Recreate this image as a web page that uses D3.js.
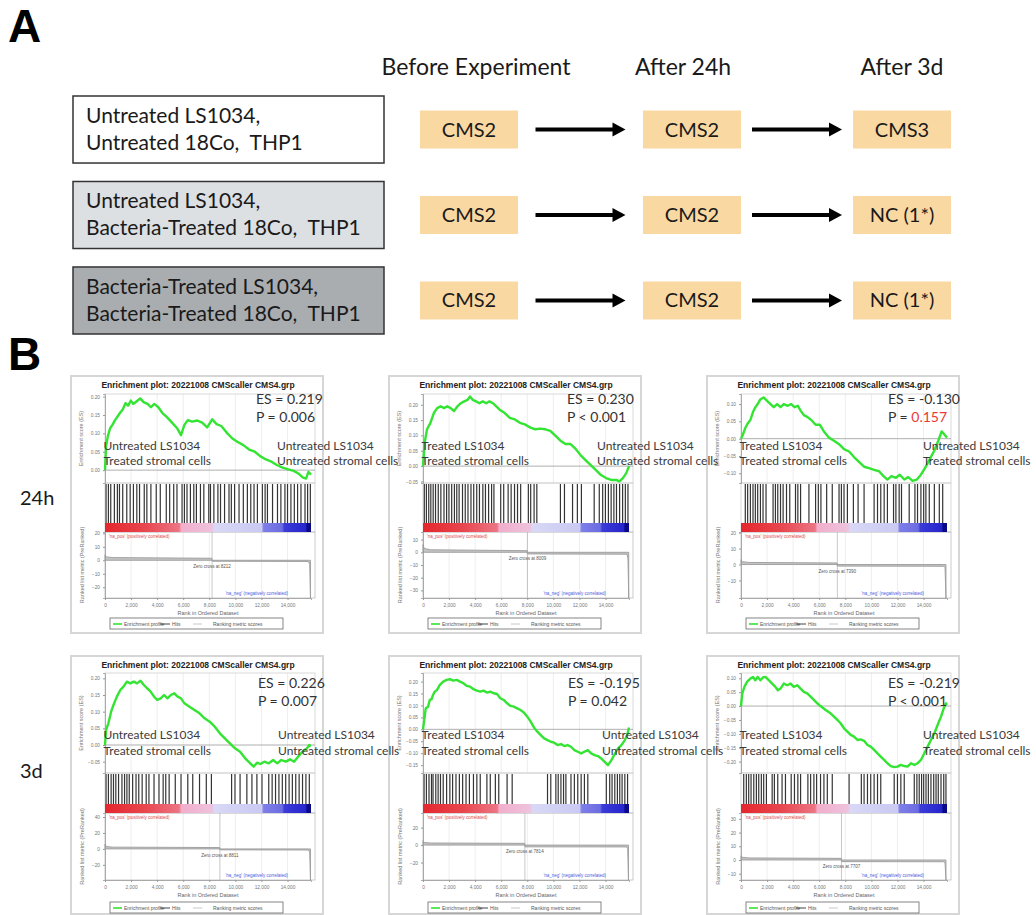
<!DOCTYPE html>
<html>
<head>
<meta charset="utf-8">
<script src="https://cdn.jsdelivr.net/npm/d3@7"></script>
<style>
  body { margin: 0; background: #fff; }
  svg text { font-family: Lato, "Liberation Sans", sans-serif; }
</style>
</head>
<body>
<svg id="fig" width="1036" height="915"></svg>
<script>
// ---------- panel A values ----------
var stages = ["Before Experiment", "After 24h", "After 3d"];
var sampleLines = [
  ["Untreated LS1034,", "Untreated 18Co,  THP1"],
  ["Untreated LS1034,", "Bacteria-Treated 18Co,  THP1"],
  ["Bacteria-Treated LS1034,", "Bacteria-Treated 18Co,  THP1"]
];
var cmsStates = [
  ["CMS2", "CMS2", "CMS3"],
  ["CMS2", "CMS2", "NC (1*)"],
  ["CMS2", "CMS2", "NC (1*)"]
];

// ---------- panel B values ----------
var rowLabels = ["24h", "3d"];
var plotTitle = "Enrichment plot: 20221008 CMScaller CMS4.grp";
var nGenes = 15800;
var rankTicks = [0, 2000, 4000, 6000, 8000, 10000, 12000, 14000];
var esValues = ["0.219", "0.230", "-0.130", "0.226", "-0.195", "-0.219"];
var pOps = ["=", "<", "=", "=", "=", "<"];
var pValues = ["0.006", "0.001", "0.157", "0.007", "0.042", "0.001"];
var pSignificant = [true, true, false, true, true, true];
var zeroCross = [8212, 8009, 7390, 8811, 7814, 7707];
var leftNotes = [
  ["Untreated LS1034", "Treated stromal cells"],
  ["Treated LS1034", "Treated stromal cells"],
  ["Treated LS1034", "Treated stromal cells"],
  ["Untreated LS1034", "Treated stromal cells"],
  ["Treated LS1034", "Treated stromal cells"],
  ["Treated LS1034", "Treated stromal cells"]
];
var rightNotes = [
  ["Untreated LS1034", "Untreated stromal cells"],
  ["Untreated LS1034", "Untreated stromal cells"],
  ["Untreated LS1034", "Treated stromal cells"],
  ["Untreated LS1034", "Untreated stromal cells"],
  ["Untreated LS1034", "Untreated stromal cells"],
  ["Untreated LS1034", "Treated stromal cells"]
];
var esTicks = [
  [0, 0.05, 0.1, 0.15, 0.2],
  [-0.05, 0, 0.05, 0.1, 0.15, 0.2],
  [-0.1, -0.05, 0, 0.05, 0.1],
  [-0.05, 0, 0.05, 0.1, 0.15, 0.2],
  [-0.15, -0.1, -0.05, 0, 0.05, 0.1, 0.15, 0.2],
  [-0.2, -0.15, -0.1, -0.05, 0, 0.05, 0.1]
];
var metricTicks = [
  [-20, -10, 0, 10, 20],
  [-30, -20, -10, 0, 10],
  [-10, 0, 10, 20],
  [-20, 0, 20, 40],
  [-20, 0, 20],
  [-10, 0, 10, 20, 30]
];

// running enrichment score, [rank, ES]
var es1 = [[0,0],[80,0.064],[210,0.091],[390,0.114],[570,0.123],[770,0.136],[950,0.145],[1160,0.156],[1360,0.165],[1570,0.182],[1770,0.175],[1980,0.189],[2180,0.18],[2390,0.186],[2700,0.195],[2960,0.185],[3260,0.18],[3520,0.171],[3780,0.18],[4090,0.171],[4390,0.156],[4750,0.144],[5140,0.129],[5530,0.114],[5830,0.095],[6090,0.123],[6350,0.136],[6680,0.132],[7070,0.135],[7450,0.129],[7840,0.116],[8220,0.138],[8560,0.125],[8920,0.12],[9330,0.102],[9770,0.086],[10150,0.077],[10610,0.068],[11050,0.056],[11490,0.05],[11900,0.038],[12340,0.029],[12770,0.023],[13180,0.014],[13620,0.007],[14060,0.002],[14470,-0.002],[14830,-0.009],[15160,-0.02],[15420,-0.023],[15600,-0.005],[15800,-0.012]];
var es2 = [[0,0],[130,0.078],[310,0.12],[570,0.141],[830,0.173],[1090,0.189],[1350,0.195],[1610,0.189],[1860,0.195],[2120,0.189],[2380,0.179],[2640,0.195],[2900,0.205],[3160,0.211],[3420,0.216],[3600,0.227],[3810,0.216],[4070,0.211],[4330,0.205],[4580,0.211],[4840,0.205],[5100,0.211],[5360,0.205],[5620,0.195],[5880,0.184],[6270,0.173],[6660,0.157],[7040,0.152],[7430,0.141],[7820,0.136],[8210,0.126],[8600,0.12],[8990,0.122],[9380,0.12],[9760,0.115],[10150,0.099],[10540,0.083],[10930,0.072],[11320,0.072],[11710,0.056],[12100,0.035],[12480,0.019],[12870,0.003],[13260,-0.013],[13650,-0.029],[14040,-0.039],[14430,-0.045],[14810,-0.045],[15070,-0.05],[15330,-0.039],[15590,-0.023],[15800,0]];
var es3 = [[0,0],[150,0.012],[330,0.031],[510,0.044],[720,0.054],[920,0.077],[1100,0.091],[1280,0.1],[1490,0.114],[1740,0.119],[2000,0.109],[2260,0.1],[2510,0.091],[2770,0.1],[3030,0.091],[3280,0.1],[3590,0.095],[3850,0.1],[4100,0.091],[4360,0.095],[4570,0.081],[4820,0.068],[5080,0.063],[5390,0.054],[5720,0.04],[6050,0.04],[6360,0.021],[6750,0.003],[7130,-0.006],[7520,-0.016],[7900,-0.03],[8290,-0.037],[8670,-0.053],[9050,-0.067],[9440,-0.081],[9820,-0.085],[10210,-0.09],[10590,-0.094],[10930,-0.108],[11230,-0.118],[11540,-0.108],[11880,-0.113],[12180,-0.104],[12520,-0.118],[12830,-0.111],[13160,-0.122],[13490,-0.118],[13800,-0.104],[14110,-0.085],[14440,-0.062],[14830,-0.034],[15130,-0.006],[15390,0.021],[15600,0.012],[15800,0.003]];
var es4 = [[0,0],[80,0.045],[260,0.065],[470,0.1],[650,0.12],[910,0.145],[1170,0.165],[1420,0.175],[1680,0.19],[1940,0.185],[2200,0.19],[2460,0.185],[2720,0.193],[2980,0.18],[3240,0.17],[3500,0.16],[3760,0.145],[4010,0.135],[4270,0.14],[4530,0.15],[4790,0.14],[5050,0.15],[5310,0.155],[5570,0.145],[5830,0.14],[6090,0.125],[6480,0.115],[6860,0.105],[7250,0.095],[7640,0.08],[8030,0.07],[8420,0.055],[8810,0.035],[9190,0.02],[9580,0.005],[9970,-0.01],[10360,-0.02],[10750,-0.04],[11140,-0.055],[11400,-0.065],[11660,-0.053],[11910,-0.057],[12220,-0.05],[12560,-0.055],[12900,-0.045],[13210,-0.055],[13520,-0.045],[13860,-0.05],[14190,-0.043],[14500,-0.05],[14810,-0.035],[15150,-0.02],[15490,-0.01],[15670,0],[15800,-0.003]];
var es5 = [[0,0],[80,0.032],[210,0.088],[390,0.095],[520,0.123],[650,0.126],[770,0.144],[900,0.158],[1080,0.165],[1290,0.186],[1550,0.2],[1810,0.207],[2060,0.21],[2320,0.204],[2580,0.207],[2840,0.2],[3100,0.193],[3350,0.182],[3610,0.179],[3870,0.168],[4130,0.162],[4390,0.158],[4640,0.162],[4900,0.154],[5160,0.158],[5420,0.151],[5680,0.148],[5930,0.13],[6190,0.123],[6450,0.109],[6710,0.098],[6970,0.095],[7220,0.088],[7480,0.081],[7740,0.07],[8000,0.053],[8260,0.032],[8510,0.008],[8770,-0.01],[9030,-0.024],[9290,-0.038],[9550,-0.045],[9800,-0.052],[10060,-0.056],[10320,-0.066],[10580,-0.062],[10840,-0.07],[11090,-0.066],[11350,-0.073],[11610,-0.087],[11870,-0.094],[12130,-0.101],[12380,-0.094],[12640,-0.087],[12900,-0.101],[13160,-0.108],[13420,-0.112],[13670,-0.122],[13930,-0.136],[14190,-0.15],[14450,-0.129],[14710,-0.103],[14960,-0.08],[15220,-0.066],[15480,-0.045],[15660,-0.024],[15800,0.008]];
var es6 = [[0,0],[100,0.046],[260,0.069],[460,0.087],[720,0.099],[920,0.105],[1100,0.093],[1280,0.105],[1490,0.093],[1690,0.103],[1870,0.105],[2130,0.093],[2390,0.081],[2640,0.069],[2820,0.057],[3030,0.063],[3280,0.081],[3540,0.075],[3800,0.081],[4050,0.069],[4310,0.075],[4570,0.063],[4820,0.051],[5080,0.046],[5340,0.034],[5590,0.022],[5850,0.01],[6100,0],[6490,-0.014],[6870,-0.026],[7130,-0.038],[7390,-0.05],[7640,-0.062],[7900,-0.08],[8160,-0.092],[8410,-0.104],[8670,-0.11],[8930,-0.122],[9180,-0.12],[9440,-0.125],[9700,-0.14],[9950,-0.146],[10210,-0.158],[10470,-0.17],[10720,-0.182],[10980,-0.194],[11230,-0.206],[11490,-0.216],[11750,-0.22],[12000,-0.218],[12260,-0.212],[12520,-0.216],[12770,-0.218],[13030,-0.206],[13290,-0.212],[13540,-0.206],[13800,-0.194],[14060,-0.17],[14310,-0.146],[14570,-0.122],[14830,-0.098],[15080,-0.068],[15340,-0.038],[15550,-0.008],[15720,0.01],[15800,0.004]];

// hit positions (rank)
var hits1 = [80,260,440,720,950,1110,1360,1670,1930,2180,2440,2650,3010,3210,3520,3930,4240,4700,4960,5270,5520,5910,6090,6290,6550,6810,7010,7320,7580,7960,8090,8350,8660,8860,9170,9510,9690,9940,10280,10610,10920,11180,11430,11690,12070,12280,12460,12850,13230,13490,13800,14000,14260,14520,14770,15030,15340,15540,15750];
var hits2 = [100,260,440,600,780,960,1170,1370,1610,1810,1990,2200,2410,2590,2770,3030,3240,3450,3680,3890,4120,4330,4590,4790,5030,5260,5440,5960,6190,6530,6760,7020,7250,7490,8080,8260,8520,8730,10540,10850,11470,11840,12150,13130,13520,13780,13990,14220,14430,14640,14840,15080,15310,15520,15720];
var hits3 = [330,510,720,920,1100,1280,1490,1690,1920,2460,2640,2820,3030,3230,3490,3740,4180,4360,4570,5210,5720,5930,6130,6570,7000,7520,7700,7900,8160,8620,8980,9440,10210,10470,10720,10980,11230,11700,11880,12130,12310,12900,13340,13540,13800,14010,14180,14440,14830,15210,15470];
var hits4 = [80,260,470,650,830,1040,1300,1500,1680,1860,2120,2380,2590,2850,3160,3370,3760,4140,4460,4660,4920,5390,5830,6350,6730,7250,7770,8160,9710,9970,10360,10880,11270,11650,12040,12560,12820,13080,13340,13600,13860,14120,14370,14630,14890,15150,15410,15670];
var hits5 = [80,260,460,650,770,980,1160,1340,1550,1810,2060,2270,2530,2790,3040,3300,3560,3870,4130,4390,4900,5160,5550,5810,6450,6840,9550,9800,10190,10370,10580,10780,10960,11350,11610,11870,12130,12380,12640,14060,14320,14500,14710,14910,15090,15270,15480,15690];
var hits6 = [210,410,590,770,980,1180,1360,1560,1740,1950,2390,2560,2820,3150,3410,3850,4100,4360,4570,5130,5340,5590,5800,6100,6360,6620,7000,8290,9230,9440,9700,9950,10210,10470,10720,11750,12000,12260,12520,13290,13490,13670,13850,14010,14190,14370,14570,14780,14960,15130,15340,15550,15720];

// ranked list metric, [rank, metric]
var metric1 = [[0,4],[100,2.5],[600,2],[8200,1.5],[8212,-0.7],[15600,-0.9],[15700,-3],[15760,-28]];
var metric2 = [[0,6],[100,3],[600,2],[8000,1.3],[8009,-1.3],[15650,-1.5],[15720,-5],[15780,-36]];
var metric3 = [[0,3],[100,1.8],[600,1.3],[7380,1],[7390,-1],[15550,-1.1],[15650,-2],[15720,-21]];
var metric4 = [[0,6],[100,3],[600,2.2],[8800,1.7],[8811,-1.2],[15600,-1.4],[15700,-4],[15760,-39]];
var metric5 = [[0,5],[100,3],[600,2.4],[7800,2],[7814,-2],[15600,-2.1],[15700,-4],[15760,-40]];
var metric6 = [[0,3],[100,2],[600,1.5],[7700,1.2],[7707,-1.2],[15550,-1.3],[15650,-2],[15720,-14.6]];

// ---------- layout (not data) ----------
var esExtent = [[-0.035, 0.207], [-0.055, 0.235], [-0.128, 0.129], [-0.084, 0.216], [-0.183, 0.236], [-0.241, 0.119]];
var metricExtent = [[-28, 21], [-36, 16], [-21, 20.4], [-39, 45], [-40, 36.8], [-14.6, 34.3]];
var frameX = [71, 389, 707], frameY = [376, 656], frameW = 252;
var areaL = 34, areaR = 240;
var rowBox = [
  {h: 257, esTop: 18, esBot: 107, hitsBot: 147, barBot: 156, rankBot: 222, tickY: 229, xTitle: 239, legY: 242, note1: 74, note2: 89, es: 28, p: 46},
  {h: 258, esTop: 17, esBot: 117, hitsBot: 148, barBot: 157, rankBot: 224, tickY: 231, xTitle: 241, legY: 246, note1: 83, note2: 99, es: 32, p: 50}
];
var noteRightX = [206, 208, 216, 207, 213, 216];
var esTextX = [185, 178, 181, 187, 179, 181];
var barStops = [[0, "#e5262d"], [0.2, "#e84850"], [0.36, "#ec7584"], [0.37, "#f1aecb"], [0.52, "#eec2dd"], [0.53, "#d9d8f6"], [0.76, "#c9c9f3"], [0.77, "#7e7ee9"], [0.86, "#6c6ce2"], [0.87, "#3c3cd9"], [0.975, "#2525cc"], [0.98, "#0a0a88"], [1, "#0a0a88"]];

var svg = d3.select("#fig");
var defs = svg.append("defs");
defs.append("linearGradient").attr("id", "rankbar")
  .selectAll("stop").data(barStops).enter().append("stop")
    .attr("offset", function(d) { return d[0]; })
    .attr("stop-color", function(d) { return d[1]; });

// ================= panel A =================
svg.append("text").attr("x", 8).attr("y", 42).text("A")
  .style("font-family", "'Liberation Sans', Arial, sans-serif").style("font-weight", "bold").style("font-size", "46px");
svg.append("text").attr("x", 8).attr("y", 370).text("B")
  .style("font-family", "'Liberation Sans', Arial, sans-serif").style("font-weight", "bold").style("font-size", "46px");

var rowY = d3.scaleBand().domain(d3.range(sampleLines.length)).range([96, 334]).paddingInner(0.216);
var stageX = d3.scaleOrdinal().domain(stages).range([469, 692, 902]);
var headerX = d3.scaleOrdinal().domain(stages).range([476, 683, 902]);
var boxFill = ["#ffffff", "#dde0e3", "#a9adb0"];

svg.selectAll(".stage").data(stages).enter().append("text")
  .attr("x", function(d) { return headerX(d); })
  .attr("y", 75)
  .attr("text-anchor", "middle")
  .style("font-size", "23px").style("fill", "#1a1a1a")
  .text(function(d) { return d; });

var grp = svg.selectAll(".grp").data(sampleLines).enter().append("g");
grp.append("rect")
  .attr("x", 73).attr("y", function(d, i) { return rowY(i); })
  .attr("width", 311).attr("height", rowY.bandwidth())
  .attr("fill", function(d, i) { return boxFill[i]; })
  .attr("stroke", "#333").attr("stroke-width", 1.5);
grp.each(function(lines, i) {
  d3.select(this).selectAll("text").data(lines).enter().append("text")
    .attr("x", 86).attr("y", function(d, j) { return rowY(i) + 27 + j * 27; })
    .style("font-size", "21px").style("fill", "#1a1a1a").style("white-space", "pre")
    .text(function(d) { return d; });
});

cmsStates.forEach(function(states, i) {
  var cy = rowY(i) + rowY.bandwidth() / 2;
  states.forEach(function(s, j) {
    var cx = stageX(stages[j]);
    svg.append("rect").attr("x", cx - 49).attr("y", cy - 19).attr("width", 98).attr("height", 38).attr("fill", "#fad8a2");
    svg.append("text").attr("x", cx).attr("y", cy + 7).attr("text-anchor", "middle")
      .style("font-size", "20px").style("fill", "#1a1a1a").text(s);
    if (j < states.length - 1) {
      var mid = (stageX(stages[j]) + 49 + stageX(stages[j + 1]) - 49) / 2;
      var x0 = mid - 45, x1 = mid + 45;
      svg.append("line").attr("x1", x0).attr("x2", x1 - 10).attr("y1", cy).attr("y2", cy)
        .attr("stroke", "#000").attr("stroke-width", 4);
      svg.append("path").attr("d", "M" + x1 + "," + cy + "L" + (x1 - 13) + "," + (cy - 7) + "L" + (x1 - 13) + "," + (cy + 7) + "Z").attr("fill", "#000");
    }
  });
});

// ================= panel B =================
svg.selectAll(".rowlab").data(rowLabels).enter().append("text")
  .attr("x", 20).attr("y", function(d, i) { return [505, 778][i]; })
  .style("font-size", "20px").style("fill", "#1a1a1a")
  .text(function(d) { return d; });

var plots = [
  {es: es1, hits: hits1, metric: metric1},
  {es: es2, hits: hits2, metric: metric2},
  {es: es3, hits: hits3, metric: metric3},
  {es: es4, hits: hits4, metric: metric4},
  {es: es5, hits: hits5, metric: metric5},
  {es: es6, hits: hits6, metric: metric6}
];

var tiny = function(sel, size, color) {
  return sel.style("font-family", "'Liberation Sans', Arial, sans-serif").style("font-size", size + "px").style("fill", color);
};

plots.forEach(function(p, i) {
  var row = Math.floor(i / 3), col = i % 3, L = rowBox[row];
  var g = svg.append("g").attr("transform", "translate(" + frameX[col] + "," + frameY[row] + ")");

  var x = d3.scaleLinear().domain([0, nGenes]).range([areaL, areaR]);
  var yEs = d3.scaleLinear().domain(esExtent[i]).range([L.esBot, L.esTop]);
  var yM = d3.scaleLinear().domain(metricExtent[i]).range([L.rankBot, L.barBot]);

  g.append("rect").attr("x", 0).attr("y", 0).attr("width", frameW).attr("height", L.h)
    .attr("fill", "#fff").attr("stroke", "#d6d6d6").attr("stroke-width", 2);

  tiny(g.append("text"), 8.5, "#222").style("font-weight", "bold")
    .attr("x", 127).attr("y", 12).attr("text-anchor", "middle").text(plotTitle);

  // grid
  g.append("g").selectAll("line").data(rankTicks.slice(1)).enter().append("line")
    .attr("x1", function(d) { return x(d); }).attr("x2", function(d) { return x(d); })
    .attr("y1", L.esTop).attr("y2", L.esBot).attr("stroke", "#eeeeee");
  g.append("g").selectAll("line").data(rankTicks.slice(1)).enter().append("line")
    .attr("x1", function(d) { return x(d); }).attr("x2", function(d) { return x(d); })
    .attr("y1", L.barBot).attr("y2", L.rankBot).attr("stroke", "#eeeeee");

  // panel frames
  g.append("rect").attr("x", areaL).attr("y", L.esTop).attr("width", areaR - areaL + 4).attr("height", L.esBot - L.esTop)
    .attr("fill", "none").attr("stroke", "#cfcfcf").attr("stroke-width", 0.8);
  g.append("rect").attr("x", areaL).attr("y", L.esBot).attr("width", areaR - areaL + 4).attr("height", L.barBot - L.esBot)
    .attr("fill", "none").attr("stroke", "#cfcfcf").attr("stroke-width", 0.8);
  g.append("rect").attr("x", areaL).attr("y", L.barBot).attr("width", areaR - areaL + 4).attr("height", L.rankBot - L.barBot)
    .attr("fill", "none").attr("stroke", "#bdbdbd").attr("stroke-width", 0.8);

  // zero line of ES
  g.append("line").attr("x1", areaL).attr("x2", areaR + 4).attr("y1", yEs(0)).attr("y2", yEs(0))
    .attr("stroke", "#9a9a9a").attr("stroke-width", 0.8);

  // hits
  g.append("g").selectAll("line").data(p.hits).enter().append("line")
    .attr("x1", function(d) { return x(d); }).attr("x2", function(d) { return x(d); })
    .attr("y1", L.esBot + 1).attr("y2", L.hitsBot)
    .attr("stroke", "#111").attr("stroke-width", 1.2).attr("stroke-opacity", 0.85);

  // colour bar
  g.append("rect").attr("x", areaL).attr("y", L.hitsBot).attr("width", areaR - areaL).attr("height", L.barBot - L.hitsBot)
    .attr("fill", "url(#rankbar)");

  // ranked metric
  g.append("line").attr("x1", x(zeroCross[i])).attr("x2", x(zeroCross[i]))
    .attr("y1", L.barBot).attr("y2", L.rankBot).attr("stroke", "#b0b0b0").attr("stroke-width", 0.7);
  g.append("path").datum(p.metric)
    .attr("d", d3.area().x(function(d) { return x(d[0]); }).y0(yM(0)).y1(function(d) { return yM(d[1]); }))
    .attr("fill", "#c4c4c4").attr("stroke", "#9c9c9c").attr("stroke-width", 0.9);
  tiny(g.append("text"), 4.5, "#555").attr("x", x(zeroCross[i])).attr("y", yM(0) + 8)
    .attr("text-anchor", "middle").text("Zero cross at " + zeroCross[i]);
  tiny(g.append("text"), 4.5, "#e04848").attr("x", areaL + 4).attr("y", L.barBot + 6)
    .text("'na_pos' (positively correlated)");
  tiny(g.append("text"), 4.5, "#4a5ae0").attr("x", areaR - 23).attr("y", L.rankBot - 3)
    .attr("text-anchor", "end").text("'na_neg' (negatively correlated)");

  // ES curve
  g.append("path").datum(p.es)
    .attr("d", d3.line().x(function(d) { return x(d[0]); }).y(function(d) { return yEs(d[1]); }))
    .attr("fill", "none").attr("stroke", "#33e433").attr("stroke-width", 2.4).attr("stroke-linejoin", "round");

  // axes
  var ay = g.append("g").attr("transform", "translate(" + areaL + ",0)")
    .call(d3.axisLeft(yEs).tickValues(esTicks[i]).tickFormat(d3.format(".2f")).tickSize(2));
  var am = g.append("g").attr("transform", "translate(" + areaL + ",0)")
    .call(d3.axisLeft(yM).tickValues(metricTicks[i]).tickFormat(d3.format("d")).tickSize(2));
  var ax = g.append("g").attr("transform", "translate(0," + L.rankBot + ")")
    .call(d3.axisBottom(x).tickValues(rankTicks).tickFormat(d3.format(",")).tickSize(2));
  [ay, am, ax].forEach(function(a) {
    a.select(".domain").attr("stroke", "#999").attr("stroke-width", 0.8);
    a.selectAll(".tick line").attr("stroke", "#999");
    tiny(a.selectAll(".tick text"), 4.8, "#777");
  });
  ax.selectAll(".tick text").attr("dy", "0.9em");

  tiny(g.append("text"), 5.5, "#777").attr("text-anchor", "middle")
    .attr("transform", "translate(12," + (L.esTop + L.esBot) / 2 + ") rotate(-90)").text("Enrichment score (ES)");
  tiny(g.append("text"), 5.5, "#777").attr("text-anchor", "middle")
    .attr("transform", "translate(13," + (L.barBot + L.rankBot) / 2 + ") rotate(-90)").text("Ranked list metric (PreRanked)");
  tiny(g.append("text"), 5.5, "#666").attr("text-anchor", "middle")
    .attr("x", (areaL + areaR) / 2).attr("y", L.xTitle).text("Rank in Ordered Dataset");

  // legend
  var lg = g.append("g").attr("transform", "translate(39," + L.legY + ")");
  lg.append("rect").attr("width", 173).attr("height", 11).attr("fill", "#fff").attr("stroke", "#666").attr("stroke-width", 0.8);
  lg.append("line").attr("x1", 3).attr("x2", 12).attr("y1", 6).attr("y2", 6).attr("stroke", "#33e433").attr("stroke-width", 1.6);
  tiny(lg.append("text"), 5, "#555").attr("x", 14).attr("y", 7.8).text("Enrichment profile");
  lg.append("line").attr("x1", 50).attr("x2", 60).attr("y1", 6).attr("y2", 6).attr("stroke", "#444").attr("stroke-width", 1);
  tiny(lg.append("text"), 5, "#555").attr("x", 62).attr("y", 7.8).text("Hits");
  lg.append("line").attr("x1", 83).attr("x2", 92).attr("y1", 6).attr("y2", 6).attr("stroke", "#c8c8c8").attr("stroke-width", 1);
  tiny(lg.append("text"), 5, "#555").attr("x", 103).attr("y", 7.8).text("Ranking metric scores");
});

// overlay annotations drawn on top of every plot
plots.forEach(function(p, i) {
  var row = Math.floor(i / 3), col = i % 3, L = rowBox[row];
  var ox = frameX[col], oy = frameY[row];
  var note = function(txt, x, y) {
    svg.append("text").attr("x", x).attr("y", y).style("font-size", "12px").style("fill", "#3a3a3a").text(txt);
  };
  note(leftNotes[i][0], ox + 32.5, oy + L.note1);
  note(leftNotes[i][1], ox + 32.5, oy + L.note2);
  note(rightNotes[i][0], ox + noteRightX[i], oy + L.note1);
  note(rightNotes[i][1], ox + noteRightX[i], oy + L.note2);

  svg.append("text").attr("x", ox + esTextX[i]).attr("y", oy + L.es)
    .style("font-size", "14px").style("fill", "#333").text("ES = " + esValues[i]);
  var pt = svg.append("text").attr("x", ox + esTextX[i]).attr("y", oy + L.p)
    .style("font-size", "14px").style("fill", "#333");
  pt.append("tspan").text("P " + pOps[i] + " ");
  pt.append("tspan").style("fill", pSignificant[i] ? "#333" : "#e83a3a").text(pValues[i]);
});
</script>
</body>
</html>
